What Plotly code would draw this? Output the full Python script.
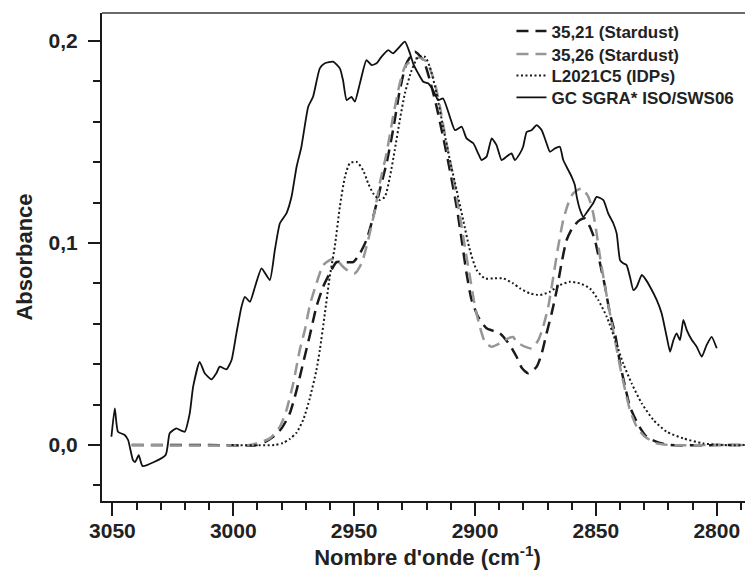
import plotly.graph_objects as go

# ---- data (wavenumber cm-1, absorbance) ----
gc_x = [3050.4, 3049.0, 3047.7, 3044.9, 3043.5, 3041.5, 3040.6, 3039.1, 3037.5, 3028.0,
        3026.3, 3023.5, 3021.7, 3020.1, 3018.0, 3016.6, 3013.9, 3011.8, 3009.0, 3007.0,
        3005.6, 3002.8, 3000.7, 2998.7, 2996.6, 2995.2, 2993.1, 2991.0, 2988.3, 2984.9,
        2982.8, 2980.7, 2978.0, 2975.9, 2973.8, 2971.8, 2969.0, 2967.0, 2964.2, 2962.1,
        2958.7, 2955.9, 2954.6, 2953.1, 2951.1, 2949.7, 2947.6, 2944.9, 2942.8, 2940.7,
        2938.7, 2935.9, 2933.9, 2931.8, 2929.0, 2926.9, 2925.6, 2923.5, 2921.4, 2919.4,
        2917.3, 2915.2, 2913.2, 2910.4, 2908.3, 2905.5, 2903.5, 2900.7, 2898.7, 2897.3,
        2895.2, 2893.1, 2891.1, 2889.0, 2886.9, 2884.9, 2883.5, 2881.4, 2880.1, 2878.6,
        2876.6, 2874.5, 2872.4, 2870.4, 2869.0, 2866.9, 2864.9, 2863.5, 2861.4, 2860.0,
        2858.7, 2857.9, 2856.5, 2855.2, 2853.1, 2851.1, 2849.7, 2846.9, 2844.9, 2842.8,
        2841.4, 2840.0, 2838.7, 2837.3, 2835.9, 2834.5, 2833.1, 2831.0, 2829.7, 2827.6,
        2824.8, 2822.8, 2820.7, 2819.3, 2817.9, 2816.6, 2815.2, 2813.8, 2812.4, 2810.3,
        2808.3, 2806.2, 2804.2, 2802.1, 2800.0]
gc_y = [0.0041, 0.0182, 0.0066, 0.0050, 0.0025, -0.0074, -0.0084, -0.0050, -0.0104, -0.0050,
        0.0058, 0.0083, 0.0072, 0.0066, 0.0157, 0.0289, 0.0412, 0.0355, 0.0325, 0.0355,
        0.0388, 0.0375, 0.0421, 0.0553, 0.0685, 0.0734, 0.0709, 0.0784, 0.0875, 0.0817,
        0.0965, 0.1098, 0.1147, 0.1229, 0.1378, 0.1477, 0.1675, 0.1724, 0.1865, 0.1890,
        0.1898, 0.1865, 0.1807, 0.1708, 0.1724, 0.1700, 0.1791, 0.1906, 0.1881, 0.1890,
        0.1922, 0.1955, 0.1939, 0.1964, 0.1997, 0.1939, 0.1890, 0.1840, 0.1799, 0.1791,
        0.1757, 0.1708, 0.1716, 0.1625, 0.1559, 0.1576, 0.1518, 0.1494, 0.1444, 0.1411,
        0.1428, 0.1518, 0.1485, 0.1411, 0.1428, 0.1444, 0.1411, 0.1444, 0.1477, 0.1551,
        0.1559, 0.1584, 0.1559, 0.1494, 0.1452, 0.1469, 0.1477, 0.1411, 0.1361, 0.1328,
        0.1287, 0.1229, 0.1163, 0.1130, 0.1163, 0.1197, 0.1229, 0.1213, 0.1147, 0.1098,
        0.1048, 0.0916, 0.0900, 0.0891, 0.0833, 0.0767, 0.0784, 0.0842, 0.0825, 0.0784,
        0.0718, 0.0652, 0.0536, 0.0462, 0.0520, 0.0553, 0.0520, 0.0619, 0.0569, 0.0520,
        0.0487, 0.0437, 0.0495, 0.0536, 0.0479]

s3521_x = [3042.0, 3010.0, 2990.4, 2987.0, 2983.5, 2980.0, 2976.6, 2973.8, 2971.1, 2968.3,
           2965.6, 2962.8, 2960.1, 2957.3, 2953.8, 2950.4, 2947.6, 2944.9, 2942.1, 2939.4,
           2936.6, 2933.9, 2931.1, 2928.3, 2924.9, 2921.4, 2918.7, 2915.9, 2913.2, 2910.4,
           2907.6, 2905.5, 2903.5, 2901.4, 2898.7, 2895.2, 2889.7, 2885.6, 2882.8, 2880.6,
           2878.0, 2874.5, 2872.4, 2870.4, 2868.3, 2866.2, 2864.2, 2862.1, 2859.4, 2856.6,
           2854.6, 2852.5, 2850.4, 2848.3, 2846.2, 2844.2, 2842.1, 2840.0, 2837.9, 2835.9,
           2832.4, 2829.0, 2824.8, 2819.3, 2800.0, 2786.0]
s3521_y = [0.0, 0.0, 0.0, 0.0015, 0.0041, 0.0083, 0.0157, 0.0272, 0.0406, 0.0545,
           0.0685, 0.0784, 0.0850, 0.0906, 0.0906, 0.0906, 0.0949, 0.1015, 0.1130, 0.1262,
           0.1395, 0.1559, 0.1757, 0.1890, 0.1947, 0.1906, 0.1807, 0.1675, 0.1526, 0.1361,
           0.1180, 0.1015, 0.0850, 0.0718, 0.0635, 0.0578, 0.0553, 0.0495, 0.0437, 0.0381,
           0.0355, 0.0388, 0.0454, 0.0553, 0.0652, 0.0767, 0.0900, 0.1015, 0.1081, 0.1114,
           0.1122, 0.1081, 0.1015, 0.0900, 0.0784, 0.0652, 0.0553, 0.0404, 0.0289, 0.0190,
           0.0099, 0.0041, 0.0016, 0.0, 0.0, 0.0]

s3526_x = [3042.1, 2993.2, 2990.4, 2984.9, 2980.7, 2978.0, 2975.2, 2972.5, 2970.4, 2968.3,
           2965.6, 2962.8, 2960.1, 2958.0, 2954.6, 2951.8, 2949.7, 2946.9, 2944.2, 2941.4,
           2939.4, 2936.6, 2933.9, 2931.1, 2929.0, 2926.1, 2922.8, 2919.9, 2916.6, 2914.5,
           2911.8, 2909.0, 2906.2, 2904.2, 2902.1, 2900.0, 2898.0, 2895.9, 2893.1, 2889.7,
           2886.3, 2884.2, 2882.8, 2879.4, 2876.6, 2873.8, 2871.8, 2869.7, 2867.6, 2865.6,
           2863.5, 2861.4, 2859.4, 2855.9, 2853.1, 2851.1, 2849.7, 2848.3, 2846.2, 2844.2,
           2842.1, 2840.0, 2837.9, 2835.9, 2833.1, 2829.7, 2824.8, 2819.3, 2800.0, 2786.0]
s3526_y = [0.0, 0.0, 0.0008, 0.0033, 0.0091, 0.0173, 0.0305, 0.0470, 0.0569, 0.0693,
           0.0800, 0.0891, 0.0916, 0.0924, 0.0883, 0.0856, 0.0850, 0.0900, 0.1015, 0.1163,
           0.1296, 0.1444, 0.1625, 0.1791, 0.1873, 0.1906, 0.1918, 0.1896, 0.1791, 0.1675,
           0.1494, 0.1328, 0.1130, 0.0982, 0.0833, 0.0685, 0.0586, 0.0511, 0.0487, 0.0503,
           0.0528, 0.0535, 0.0511, 0.0487, 0.0479, 0.0520, 0.0586, 0.0685, 0.0833, 0.0982,
           0.1114, 0.1197, 0.1246, 0.1271, 0.1229, 0.1147, 0.1048, 0.0932, 0.0784, 0.0652,
           0.0520, 0.0388, 0.0272, 0.0173, 0.0091, 0.0041, 0.0008, 0.0, 0.0, 0.0]

idp_x = [3000.7, 2982.8, 2979.5, 2976.6, 2973.8, 2971.1, 2968.3, 2965.6, 2964.2, 2962.1,
         2960.1, 2958.0, 2955.9, 2953.8, 2951.8, 2949.0, 2946.3, 2944.2, 2942.1, 2939.4,
         2937.3, 2935.2, 2933.2, 2931.1, 2929.0, 2926.2, 2923.5, 2920.7, 2918.7, 2915.9,
         2913.2, 2910.4, 2907.6, 2904.9, 2902.1, 2899.3, 2895.9, 2892.5, 2888.3, 2884.2,
         2881.4, 2877.3, 2873.1, 2869.0, 2864.9, 2860.7, 2856.6, 2852.5, 2849.0, 2845.5,
         2842.0, 2838.7, 2835.2, 2831.0, 2826.2, 2820.7, 2813.8, 2805.6, 2797.3, 2786.0]
idp_y = [0.0, 0.0, 0.0010, 0.0030, 0.0062, 0.0124, 0.0233, 0.0371, 0.0470, 0.0652,
         0.0833, 0.0982, 0.1180, 0.1328, 0.1395, 0.1402, 0.1361, 0.1296, 0.1246, 0.1213,
         0.1229, 0.1328, 0.1460, 0.1609, 0.1741, 0.1856, 0.1922, 0.1922, 0.1873, 0.1741,
         0.1576, 0.1411, 0.1262, 0.1114, 0.0965, 0.0866, 0.0825, 0.0825, 0.0825, 0.0800,
         0.0776, 0.0751, 0.0743, 0.0759, 0.0792, 0.0808, 0.0800, 0.0776, 0.0718, 0.0635,
         0.0520, 0.0404, 0.0305, 0.0206, 0.0124, 0.0066, 0.0033, 0.0008, 0.0, 0.0]

x_tickvals = [3050, 3000, 2950, 2900, 2850, 2800]
x_ticktext = ["3050", "3000", "2950", "2900", "2850", "2800"]
y_tickvals = [0.0, 0.1, 0.2]
y_ticktext = ["0,0", "0,1", "0,2"]

FONT = "Liberation Sans, Arial, sans-serif"
TXT = "#222222"
INK = "#1a1a1a"

fig = go.Figure()
fig.add_trace(go.Scatter(x=s3521_x, y=s3521_y, mode="lines", name="35,21 (Stardust)", legend="legend",
                         line=dict(color=INK, width=2.5, dash="12px,7px", shape="spline", smoothing=0.6)))
fig.add_trace(go.Scatter(x=s3526_x, y=s3526_y, mode="lines", name="35,26 (Stardust)", legend="legend2",
                         line=dict(color="#969696", width=2.5, dash="12px,7px", shape="spline", smoothing=0.6)))
fig.add_trace(go.Scatter(x=idp_x, y=idp_y, mode="lines", name="L2021C5 (IDPs)", legend="legend3",
                         line=dict(color=INK, width=2, dash="2px,2.5px", shape="spline", smoothing=0.6)))
fig.add_trace(go.Scatter(x=gc_x, y=gc_y, mode="lines", name="GC SGRA* ISO/SWS06", legend="legend4",
                         line=dict(color="#111111", width=1.8, shape="spline", smoothing=0.5)))

leg_font = dict(family=FONT, size=17, color=TXT, weight="bold")
def leg(y):
    return dict(x=0.629, y=y, xanchor="left", yanchor="middle", bgcolor="rgba(0,0,0,0)",
                borderwidth=0, font=leg_font, itemwidth=30)

fig.update_layout(
    width=745, height=569,
    margin=dict(l=94, r=0, t=5, b=76),
    paper_bgcolor="white", plot_bgcolor="white",
    font=dict(family=FONT, color=TXT),
    showlegend=True,
    legend=leg(0.962), legend2=leg(0.915), legend3=leg(0.871), legend4=leg(0.826),
    xaxis=dict(range=[3054.3, 2785.0], showgrid=False, zeroline=False,
               showline=True, linecolor=INK, linewidth=2,
               ticks="outside", ticklen=13, tickwidth=2, tickcolor=INK,
               tickvals=x_tickvals, ticktext=x_ticktext,
               tickfont=dict(family=FONT, size=21, color=TXT, weight="bold"),
               ticklabelstandoff=-3,
               minor=dict(dtick=10, ticks="outside", ticklen=7, tickwidth=2, tickcolor=INK, showgrid=False),
               title=dict(text="Nombre d'onde (cm<sup>-1</sup>)", standoff=6,
                          font=dict(family=FONT, size=22, color=TXT, weight="bold"))),
    yaxis=dict(range=[-0.0277, 0.2139], showgrid=False, zeroline=False,
               showline=True, linecolor=INK, linewidth=2,
               ticks="outside", ticklen=12, tickwidth=2, tickcolor=INK,
               tickvals=y_tickvals, ticktext=y_ticktext,
               tickfont=dict(family=FONT, size=21, color=TXT, weight="bold"),
               ticklabelstandoff=6,
               minor=dict(dtick=0.02, ticks="outside", ticklen=7, tickwidth=2, tickcolor=INK, showgrid=False),
               title=dict(text="Absorbance", standoff=10,
                          font=dict(family=FONT, size=22, color=TXT, weight="bold"))),
    shapes=[dict(type="line", xref="paper", yref="paper", x0=0, x1=1, y0=1, y1=1,
                 line=dict(color="#3a3a3a", width=1.4))],
)

fig.write_html("out.html")
